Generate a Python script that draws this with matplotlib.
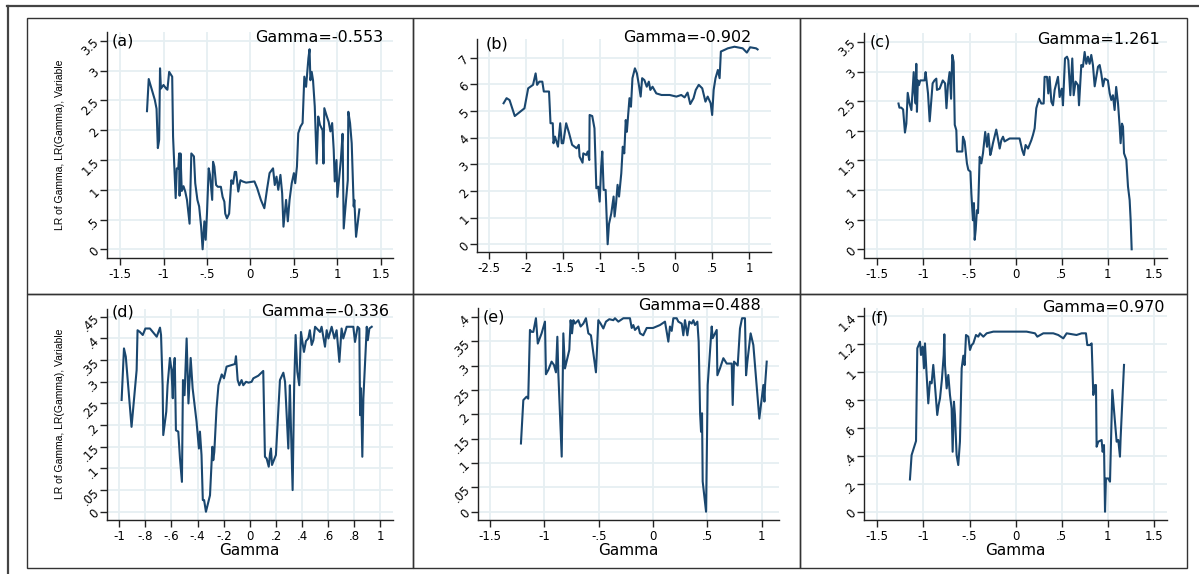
import matplotlib.pyplot as plt
from matplotlib.patches import Rectangle
from matplotlib.lines import Line2D

plt.rcParams['font.family'] = ['DejaVu Sans']

W, H = 1199, 574

a_x = [-1.19, -1.17, -1.10, -1.08, -1.065, -1.05, -1.04, -1.03, -1.0, -0.97,
       -0.955, -0.935, -0.90, -0.89, -0.86, -0.847, -0.83, -0.82, -0.815, -0.805,
       -0.79, -0.77, -0.75, -0.73, -0.70, -0.68, -0.65, -0.635, -0.61, -0.59,
       -0.567, -0.55, -0.53, -0.515, -0.50, -0.48, -0.465, -0.44, -0.43, -0.415,
       -0.395, -0.375, -0.34, -0.32, -0.30, -0.29, -0.27, -0.245, -0.22, -0.20,
       -0.18, -0.165, -0.14, -0.115, -0.09, -0.05, 0.046, 0.077, 0.12, 0.16,
       0.19, 0.22, 0.26, 0.28, 0.30, 0.32, 0.345, 0.365, 0.38, 0.41,
       0.43, 0.45, 0.475, 0.50, 0.515, 0.535, 0.55, 0.575, 0.60, 0.62,
       0.64, 0.667, 0.68, 0.69, 0.705, 0.72, 0.74, 0.762, 0.78, 0.80,
       0.83, 0.84, 0.85, 0.875, 0.90, 0.92, 0.94, 0.958, 0.97, 0.99,
       1.0, 1.04, 1.06, 1.073, 1.10, 1.12, 1.126, 1.146, 1.165, 1.188,
       1.195, 1.215, 1.253]
a_y = [2.32, 2.86, 2.51, 2.36, 1.70, 1.84, 3.04, 2.70, 2.76, 2.70,
       2.68, 2.98, 2.90, 1.89, 0.86, 1.36, 1.36, 1.61, 0.90, 1.61,
       0.98, 1.06, 0.97, 0.83, 0.43, 1.61, 1.56, 1.11, 0.83, 0.72,
       0.38, 0.0, 0.47, 0.16, 0.60, 1.36, 1.25, 0.83, 1.47, 1.39,
       1.08, 1.05, 1.05, 0.88, 0.80, 0.60, 0.52, 0.60, 1.16, 1.10,
       1.30, 1.30, 0.97, 1.16, 1.14, 1.12, 1.14, 1.03, 0.83, 0.69,
       1.0, 1.28, 1.36, 1.08, 1.22, 1.0, 1.25, 0.94, 0.38, 0.83,
       0.47, 0.83, 1.11, 1.28, 1.11, 1.39, 1.95, 2.06, 2.12, 2.90,
       2.73, 3.21, 3.36, 2.84, 2.98, 2.84, 2.40, 1.44, 2.23, 2.09,
       2.0, 1.44, 2.37, 2.25, 2.14, 1.98, 2.12, 1.67, 1.14, 1.50,
       0.88, 1.50, 1.94, 0.35, 0.83, 1.16, 2.31, 2.12, 1.78, 0.72,
       0.83, 0.21, 0.67]

b_x = [-2.30, -2.26, -2.22, -2.15, -2.02, -1.97, -1.905, -1.87, -1.85, -1.82,
       -1.78, -1.76, -1.69, -1.67, -1.64, -1.63, -1.61, -1.57, -1.54, -1.52,
       -1.50, -1.46, -1.42, -1.38, -1.32, -1.29, -1.28, -1.24, -1.23, -1.19,
       -1.17, -1.15, -1.145, -1.11, -1.08, -1.055, -1.03, -1.01, -0.99, -0.975,
       -0.957, -0.93, -0.903, -0.885, -0.854, -0.823, -0.81, -0.79, -0.77, -0.75,
       -0.72, -0.70, -0.68, -0.66, -0.645, -0.626, -0.61, -0.59, -0.57, -0.537,
       -0.51, -0.48, -0.46, -0.44, -0.41, -0.378, -0.35, -0.33, -0.30, -0.25,
       -0.18, -0.07, 0.02, 0.085, 0.13, 0.17, 0.206, 0.25, 0.28, 0.32,
       0.367, 0.41, 0.44, 0.48, 0.50, 0.52, 0.545, 0.577, 0.60, 0.617,
       0.665, 0.71, 0.80, 0.91, 0.966, 1.01, 1.09, 1.11]
b_y = [5.29, 5.48, 5.41, 4.81, 5.10, 5.85, 5.98, 6.41, 5.98, 6.10,
       6.10, 5.73, 5.73, 4.54, 4.54, 3.79, 4.04, 3.66, 4.54, 3.79,
       3.79, 4.54, 4.16, 3.73, 3.60, 3.73, 3.29, 3.06, 3.41, 3.35,
       3.48, 3.16, 4.85, 4.81, 4.35, 2.10, 2.16, 1.60, 2.91, 3.48,
       2.04, 2.04, 0.0, 0.76, 1.16, 1.79, 1.04, 1.54, 2.23, 1.79,
       2.66, 3.66, 3.41, 4.66, 4.22, 4.91, 5.48, 5.16, 6.23, 6.60,
       6.41, 5.91, 5.54, 6.23, 6.16, 5.91, 6.10, 5.79, 5.91, 5.66,
       5.60, 5.60, 5.54, 5.60, 5.51, 5.69, 5.26, 5.48, 5.79, 5.98,
       5.85, 5.35, 5.54, 5.29, 4.85, 5.79, 6.23, 6.54, 6.23, 7.23,
       7.29, 7.35, 7.41, 7.35, 7.19, 7.39, 7.35, 7.31]

c_x = [-1.27, -1.26, -1.24, -1.22, -1.20, -1.185, -1.17, -1.15, -1.13, -1.105,
       -1.095, -1.084, -1.077, -1.07, -1.06, -1.048, -1.034, -0.987, -0.976, -0.95,
       -0.932, -0.90, -0.88, -0.86, -0.853, -0.824, -0.79, -0.765, -0.75, -0.734,
       -0.716, -0.70, -0.687, -0.672, -0.66, -0.643, -0.636, -0.578, -0.571, -0.553,
       -0.542, -0.528, -0.513, -0.49, -0.48, -0.463, -0.452, -0.444, -0.433, -0.42,
       -0.408, -0.39, -0.372, -0.354, -0.33, -0.31, -0.296, -0.275, -0.264, -0.246,
       -0.21, -0.192, -0.173, -0.155, -0.137, -0.12, -0.065, 0.043, 0.072, 0.09,
       0.108, 0.134, 0.17, 0.188, 0.206, 0.224, 0.253, 0.278, 0.304, 0.314,
       0.34, 0.354, 0.368, 0.387, 0.405, 0.423, 0.459, 0.477, 0.50, 0.513,
       0.535, 0.557, 0.571, 0.593, 0.614, 0.629, 0.65, 0.676, 0.687, 0.712,
       0.73, 0.748, 0.766, 0.784, 0.802, 0.82, 0.838, 0.857, 0.875, 0.893,
       0.911, 0.929, 0.947, 0.965, 1.0, 1.02, 1.037, 1.055, 1.073, 1.09,
       1.11, 1.128, 1.138, 1.153, 1.164, 1.175, 1.20, 1.218, 1.236, 1.247,
       1.258]
c_y = [2.46, 2.39, 2.39, 2.36, 1.97, 2.12, 2.64, 2.46, 2.35, 2.99,
       2.63, 2.46, 3.13, 2.32, 2.85, 2.77, 2.85, 2.85, 2.99, 2.63,
       2.16, 2.80, 2.85, 2.88, 2.69, 2.71, 2.85, 2.80, 2.38, 2.77,
       2.99, 2.54, 3.28, 3.16, 2.10, 2.01, 1.65, 1.65, 1.90, 1.82,
       1.65, 1.45, 1.34, 1.31, 0.94, 0.49, 0.78, 0.16, 0.33, 0.66,
       0.61, 1.56, 1.45, 1.62, 1.98, 1.73, 1.95, 1.59, 1.65, 1.79,
       2.02, 1.87, 1.70, 1.84, 1.90, 1.82, 1.87, 1.87, 1.67, 1.59,
       1.76, 1.70, 1.84, 1.93, 2.04, 2.38, 2.54, 2.46, 2.46, 2.91,
       2.91, 2.63, 2.91, 2.49, 2.43, 2.69, 2.91, 2.57, 2.71, 2.43,
       3.22, 3.25, 3.19, 2.60, 3.22, 2.60, 2.83, 2.77, 2.43, 3.11,
       3.08, 3.33, 3.13, 3.25, 3.13, 3.28, 3.11, 2.75, 2.91, 3.08,
       3.11, 2.96, 2.75, 2.88, 2.85, 2.63, 2.52, 2.60, 2.35, 2.74,
       2.46, 2.07, 1.79, 2.12, 2.07, 1.62, 1.51, 1.06, 0.83, 0.49,
       0.0]

d_x = [-0.982, -0.964, -0.95, -0.906, -0.867, -0.86, -0.842, -0.82, -0.80, -0.765,
       -0.713, -0.70, -0.688, -0.68, -0.668, -0.663, -0.64, -0.63, -0.612, -0.60,
       -0.59, -0.585, -0.575, -0.566, -0.548, -0.535, -0.52, -0.512, -0.50, -0.484,
       -0.47, -0.453, -0.438, -0.408, -0.39, -0.382, -0.37, -0.36, -0.35, -0.336,
       -0.305, -0.287, -0.28, -0.272, -0.255, -0.24, -0.215, -0.198, -0.178, -0.114,
       -0.106, -0.093, -0.08, -0.063, -0.05, -0.029, -0.01, 0.014, 0.027, 0.065,
       0.103, 0.116, 0.129, 0.145, 0.155, 0.162, 0.17, 0.20, 0.231, 0.257,
       0.27, 0.295, 0.307, 0.315, 0.328, 0.34, 0.351, 0.364, 0.379, 0.392,
       0.405, 0.415, 0.43, 0.448, 0.46, 0.474, 0.487, 0.50, 0.538, 0.55,
       0.576, 0.589, 0.602, 0.627, 0.648, 0.665, 0.686, 0.703, 0.716, 0.742,
       0.793, 0.806, 0.826, 0.839, 0.845, 0.852, 0.862, 0.87, 0.882, 0.896,
       0.904, 0.916, 0.934]
d_y = [0.258, 0.377, 0.358, 0.196, 0.327, 0.419, 0.415, 0.408, 0.423, 0.423,
       0.404, 0.415, 0.425, 0.408, 0.292, 0.177, 0.231, 0.292, 0.355, 0.327,
       0.262, 0.327, 0.355, 0.188, 0.185, 0.123, 0.069, 0.304, 0.269, 0.40,
       0.25, 0.355, 0.285, 0.208, 0.146, 0.185, 0.131, 0.027, 0.027, 0.0,
       0.038, 0.15, 0.119, 0.138, 0.238, 0.292, 0.317, 0.308, 0.335, 0.341,
       0.359, 0.304, 0.292, 0.304, 0.292, 0.30, 0.298, 0.30, 0.308, 0.314,
       0.325, 0.127, 0.123, 0.104, 0.135, 0.146, 0.108, 0.131, 0.304, 0.321,
       0.30, 0.146, 0.292, 0.196, 0.05, 0.292, 0.408, 0.323, 0.292, 0.415,
       0.388, 0.369, 0.394, 0.40, 0.419, 0.385, 0.396, 0.427, 0.415, 0.427,
       0.381, 0.419, 0.40, 0.427, 0.40, 0.419, 0.346, 0.423, 0.40, 0.427,
       0.427, 0.392, 0.427, 0.423, 0.223, 0.285, 0.127, 0.262, 0.338, 0.427,
       0.396, 0.423, 0.427]

e_x = [-1.215, -1.193, -1.163, -1.148, -1.132, -1.117, -1.101, -1.077, -1.06, -1.025,
       -0.994, -0.985, -0.963, -0.933, -0.911, -0.893, -0.88, -0.871, -0.84, -0.825,
       -0.81, -0.77, -0.758, -0.745, -0.733, -0.718, -0.687, -0.666, -0.641, -0.617,
       -0.595, -0.571, -0.525, -0.503, -0.482, -0.457, -0.433, -0.402, -0.365, -0.35,
       -0.319, -0.273, -0.212, -0.196, -0.181, -0.166, -0.135, -0.12, -0.09, -0.058,
       0.0, 0.064, 0.11, 0.126, 0.141, 0.156, 0.172, 0.187, 0.218, 0.233,
       0.264, 0.279, 0.294, 0.316, 0.334, 0.356, 0.371, 0.386, 0.408, 0.42,
       0.433, 0.442, 0.451, 0.457, 0.488, 0.503, 0.524, 0.54, 0.549, 0.586,
       0.592, 0.616, 0.647, 0.678, 0.724, 0.733, 0.745, 0.779, 0.80, 0.819,
       0.846, 0.856, 0.868, 0.898, 0.923, 0.978, 1.015, 1.025, 1.031, 1.046]
e_y = [0.140, 0.229, 0.236, 0.232, 0.373, 0.369, 0.369, 0.397, 0.345, 0.366,
       0.39, 0.282, 0.291, 0.308, 0.301, 0.286, 0.359, 0.284, 0.113, 0.366,
       0.294, 0.332, 0.393, 0.366, 0.393, 0.386, 0.393, 0.38, 0.386, 0.397,
       0.366, 0.362, 0.286, 0.393, 0.386, 0.376, 0.39, 0.395, 0.393, 0.397,
       0.39, 0.397, 0.397, 0.377, 0.383, 0.373, 0.38, 0.366, 0.362, 0.377,
       0.377, 0.383, 0.39, 0.369, 0.349, 0.38, 0.371, 0.397, 0.397, 0.39,
       0.386, 0.362, 0.393, 0.362, 0.39, 0.386, 0.393, 0.383, 0.39, 0.349,
       0.202, 0.164, 0.202, 0.062, 0.0, 0.26, 0.328, 0.38, 0.356, 0.373,
       0.28, 0.294, 0.315, 0.304, 0.304, 0.219, 0.308, 0.30, 0.376, 0.397,
       0.397, 0.28, 0.308, 0.366, 0.342, 0.191, 0.26, 0.226, 0.26, 0.308]

f_x = [-1.146, -1.128, -1.08, -1.066, -1.037, -1.026, -1.008, -0.994, -0.983, -0.965,
       -0.947, -0.929, -0.911, -0.893, -0.875, -0.85, -0.835, -0.82, -0.80, -0.78,
       -0.773, -0.766, -0.748, -0.73, -0.712, -0.694, -0.683, -0.669, -0.658, -0.64,
       -0.622, -0.604, -0.585, -0.567, -0.553, -0.538, -0.513, -0.495, -0.477, -0.459,
       -0.43, -0.405, -0.387, -0.35, -0.314, -0.242, -0.098, 0.119, 0.21, 0.235,
       0.30, 0.408, 0.462, 0.517, 0.553, 0.66, 0.716, 0.762, 0.777, 0.806,
       0.824, 0.842, 0.86, 0.871, 0.878, 0.896, 0.932, 0.943, 0.958, 0.969,
       0.979, 1.005, 1.023, 1.048, 1.095, 1.113, 1.131, 1.138, 1.175]
f_y = [0.231, 0.405, 0.506, 1.169, 1.216, 1.121, 1.18, 1.026, 1.204, 0.978,
       0.775, 0.93, 0.918, 1.05, 0.906, 0.692, 0.763, 0.811, 0.942, 1.12,
       1.269, 1.049, 0.882, 0.978, 0.835, 0.739, 0.429, 0.787, 0.692, 0.405,
       0.334, 0.501, 1.026, 1.116, 1.049, 1.264, 1.252, 1.157, 1.192, 1.204,
       1.264, 1.252, 1.276, 1.252, 1.276, 1.288, 1.288, 1.288, 1.276, 1.252,
       1.276, 1.276, 1.264, 1.24, 1.276, 1.264, 1.276, 1.276, 1.192, 1.192,
       1.204, 0.835, 0.906, 0.906, 0.465, 0.501, 0.513, 0.429, 0.477, 0.0,
       0.238, 0.238, 0.215, 0.871, 0.501, 0.513, 0.394, 0.525, 1.05]

# tick values and labels
x_ticks_std = [-1.5, -1, -0.5, 0, 0.5, 1, 1.5]
x_labels_std = ['-1.5', '-1', '-.5', '0', '.5', '1', '1.5']
x_ticks_b = [-2.5, -2, -1.5, -1, -0.5, 0, 0.5, 1]
x_labels_b = ['-2.5', '-2', '-1.5', '-1', '-.5', '0', '.5', '1']
x_ticks_d = [-1, -0.8, -0.6, -0.4, -0.2, 0, 0.2, 0.4, 0.6, 0.8, 1]
x_labels_d = ['-1', '-.8', '-.6', '-.4', '-.2', '0', '.2', '.4', '.6', '.8', '1']
y_ticks_ac = [0, 0.5, 1, 1.5, 2, 2.5, 3, 3.5]
y_labels_ac = ['0', '.5', '1', '1.5', '2', '2.5', '3', '3.5']
y_ticks_b = [0, 1, 2, 3, 4, 5, 6, 7]
y_labels_b = ['0', '1', '2', '3', '4', '5', '6', '7']
y_ticks_d = [0, 0.05, 0.1, 0.15, 0.2, 0.25, 0.3, 0.35, 0.4, 0.45]
y_labels_d = ['0', '.05', '.1', '.15', '.2', '.25', '.3', '.35', '.4', '.45']
y_ticks_e = [0, 0.05, 0.1, 0.15, 0.2, 0.25, 0.3, 0.35, 0.4]
y_labels_e = ['0', '.05', '.1', '.15', '.2', '.25', '.3', '.35', '.4']
y_ticks_f = [0, 0.2, 0.4, 0.6, 0.8, 1, 1.2, 1.4]
y_labels_f = ['0', '.2', '.4', '.6', '.8', '1', '1.2', '1.4']

panel_tags = ['(a)', '(b)', '(c)', '(d)', '(e)', '(f)']
gamma_notes = ['Gamma=-0.553', 'Gamma=-0.902', 'Gamma=1.261',
               'Gamma=-0.336', 'Gamma=0.488', 'Gamma=0.970']

LINE = '#1a476f'
GRID = '#e6eff2'
AXC = '#222222'

fig = plt.figure(figsize=(W / 100, H / 100), dpi=100)


def px(x, y):
    return x / W, 1 - y / H


def box(l, t, r, b):
    # axes rectangle from pixel edges
    return [l / W, 1 - b / H, (r - l) / W, (b - t) / H]


panels = [
    # (axes box, x, y, xlim, ylim, xticks, xlabels, yticks, ylabels)
    (box(107, 32, 393, 258), a_x, a_y, (-1.65, 1.64), (-0.146, 3.65),
     x_ticks_std, x_labels_std, y_ticks_ac, y_labels_ac),
    (box(477, 39, 771, 252), b_x, b_y, (-2.657, 1.29), (-0.29, 7.70),
     x_ticks_b, x_labels_b, y_ticks_b, y_labels_b),
    (box(864, 33, 1167, 258), c_x, c_y, (-1.644, 1.641), (-0.147, 3.65),
     x_ticks_std, x_labels_std, y_ticks_ac, y_labels_ac),
    (box(107, 309, 393, 520), d_x, d_y, (-1.094, 1.097), (-0.019, 0.468),
     x_ticks_d, x_labels_d, y_ticks_d, y_labels_d),
    (box(478, 308, 779, 520), e_x, e_y, (-1.61, 1.159), (-0.017, 0.418),
     x_ticks_std[:-1], x_labels_std[:-1], y_ticks_e, y_labels_e),
    (box(864, 308, 1167, 520), f_x, f_y, (-1.644, 1.641), (-0.059, 1.457),
     x_ticks_std, x_labels_std, y_ticks_f, y_labels_f),
]

for rect, xs, ys, xl, yl, xt, xtl, yt, ytl in panels:
    ax = fig.add_axes(rect)
    ax.plot(xs, ys, color=LINE, lw=1.5, zorder=3)
    ax.set_xlim(*xl)
    ax.set_ylim(*yl)
    ax.set_xticks(xt)
    ax.set_xticklabels(xtl, fontsize=8.5)
    ax.set_yticks(yt)
    ax.set_yticklabels(ytl, fontsize=8.5, rotation=45, ha='right', va='center',
                       rotation_mode='anchor')
    ax.grid(True, color=GRID, lw=1.3, zorder=0)
    ax.set_axisbelow(True)
    for s in ['top', 'right']:
        ax.spines[s].set_visible(False)
    for s in ['left', 'bottom']:
        ax.spines[s].set_color(AXC)
        ax.spines[s].set_linewidth(1.0)
    ax.tick_params(direction='out', length=5, width=1.0, color=AXC, pad=2)
    ax.patch.set_alpha(0)

# panel tags and gamma notes
tag_pos = [(112, 41), (486, 44), (870, 42), (112, 312), (483, 317), (871, 318)]
note_pos = [(383, 38), (751, 37), (1160, 40), (389, 312), (761, 305), (1165, 308)]
for tag, (tx, ty) in zip(panel_tags, tag_pos):
    fig.text(*px(tx, ty), tag, fontsize=11.5, ha='left', va='center')
for note, (nx, ny) in zip(gamma_notes, note_pos):
    fig.text(*px(nx, ny), note, fontsize=11.5, ha='right', va='center')

# axis titles
for cx in [249, 628, 1015]:
    fig.text(*px(cx, 543), 'Gamma', fontsize=11, ha='center', va='top')
for cy in [145, 414]:
    fig.text(*px(60, cy), 'LR of Gamma, LR(Gamma), Variable', fontsize=7.5,
             rotation=90, ha='center', va='center', family='Liberation Sans')

# panel boxes
xs_edge = [27, 413, 800, 1187]
ys_edge = [18, 294, 568]
for i in range(3):
    for j in range(2):
        l, r = xs_edge[i], xs_edge[i + 1]
        t, b = ys_edge[j], ys_edge[j + 1]
        fig.add_artist(Rectangle(px(l, b), (r - l) / W, (b - t) / H,
                                 fill=False, ec='#333333', lw=1.0,
                                 transform=fig.transFigure))

# outer frame (top and left only visible)
fig.add_artist(Line2D([7 / W, 1], [1 - 6 / H, 1 - 6 / H], color='#444444',
                      lw=1.6, transform=fig.transFigure))
fig.add_artist(Line2D([8 / W, 8 / W], [1 - 6 / H, 0], color='#444444',
                      lw=1.6, transform=fig.transFigure))

fig.savefig('out.png', dpi=100, facecolor='white')
